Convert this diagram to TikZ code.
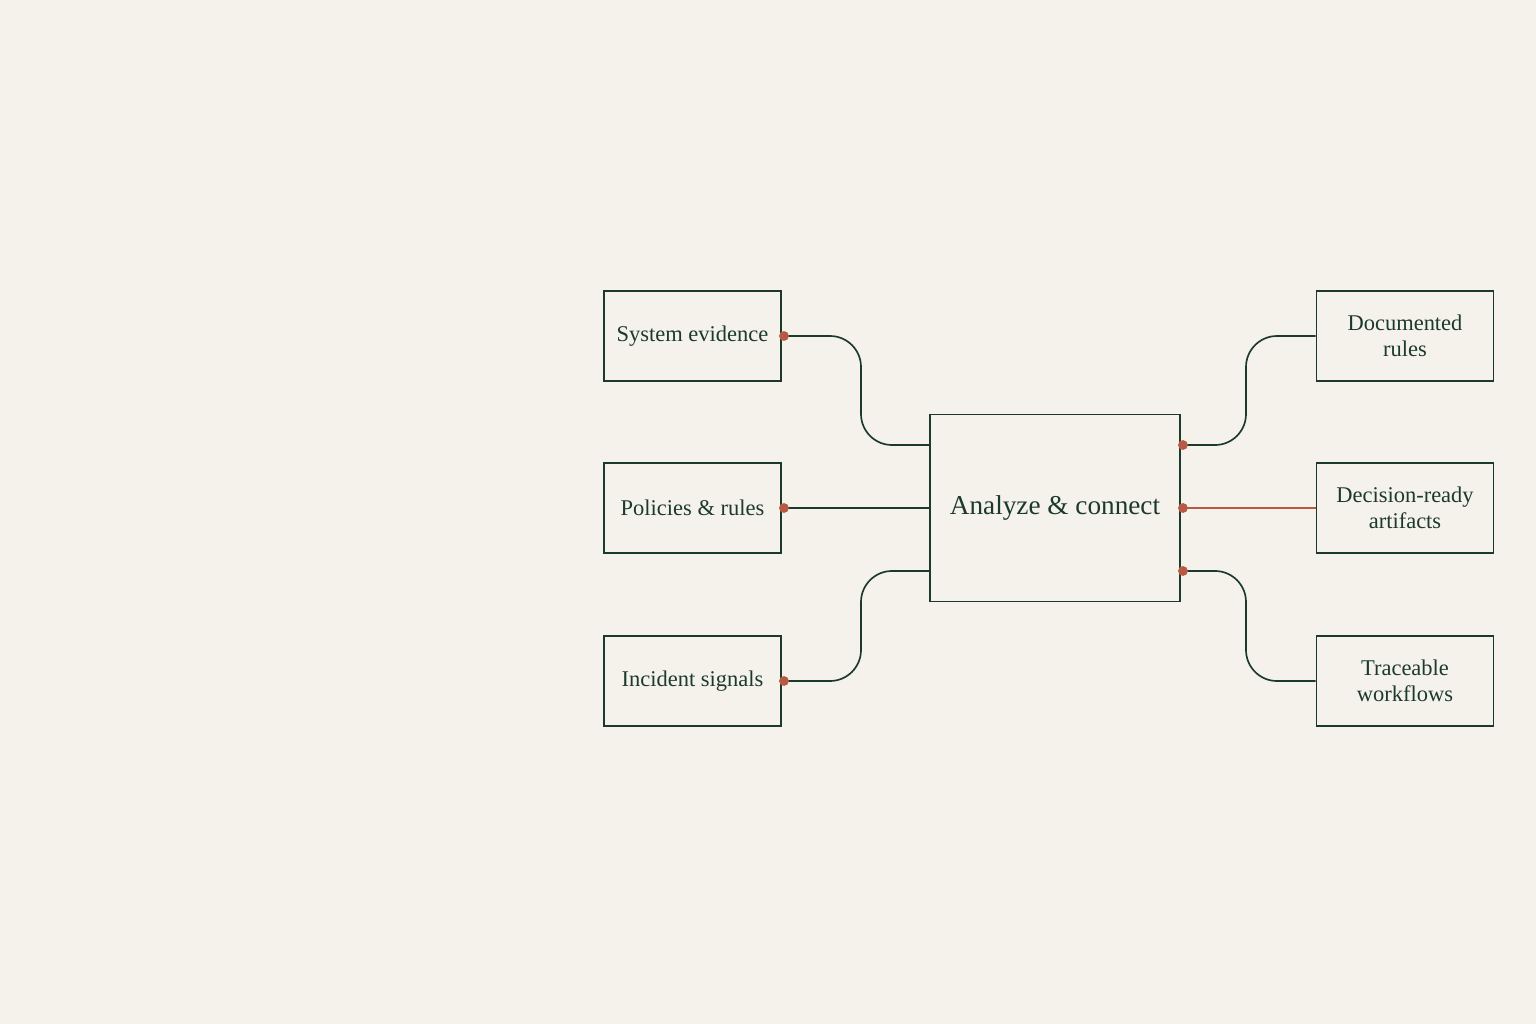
\documentclass[tikz,border=0pt]{standalone}
\usepackage{fontspec}
\setmainfont{Liberation Serif}
\definecolor{ink}{HTML}{1C3A2C}
\definecolor{rust}{HTML}{B65A45}
\definecolor{paper}{HTML}{F5F2EB}
\tikzset{
  box/.style={draw=ink, line width=1.1pt, minimum width=3.54cm, minimum height=1.8cm, align=center, text=ink, font=\fontsize{12.8}{14.6}\selectfont},
  hub/.style={draw=ink, line width=1.1pt, minimum width=5cm, minimum height=3.74cm, text=ink, font=\fontsize{15.5}{18}\selectfont},
  link/.style={draw=ink, line width=0.95pt, rounded corners=0.62cm},
  pin/.style={fill=rust, draw=none}
}
\begin{document}
\begin{tikzpicture}[x=0.02cm, y=-0.02cm]
    % page
    \fill[paper] (0,0) rectangle (1536,1024);
    \useasboundingbox (0,0) rectangle (1536,1024);
    % hub
    \node[hub] (hub) at (1055,508) {Analyze \& connect};
    % inputs
    \node[box] (evidence) at (692.5,336) {System evidence};
    \node[box] (policies) at (692.5,508) {Policies \& rules};
    \node[box] (signals) at (692.5,681) {Incident signals};
    % outputs
    \node[box] (documented) at (1405,336) {Documented\\rules};
    \node[box] (artifacts) at (1405,508) {Decision-ready\\artifacts};
    \node[box] (workflows) at (1405,681) {Traceable\\workflows};
    % ports on the hub
    \coordinate (hub in top) at ([yshift=1.26cm]hub.west);
    \coordinate (hub in low) at ([yshift=-1.26cm]hub.west);
    \coordinate (hub out top) at ([yshift=1.26cm]hub.east);
    \coordinate (hub out low) at ([yshift=-1.26cm]hub.east);
    % links in
    \draw[link] (evidence.east) -- (861,336) -- (861,445) -- (hub in top);
    \draw[link] (policies.east) -- (hub.west);
    \draw[link] (signals.east) -- (861,681) -- (861,571) -- (hub in low);
    % links out
    \draw[link] (hub out top) -- (1246,445) -- (1246,336) -- (documented.west);
    \draw[link, draw=rust] (hub.east) -- (artifacts.west);
    \draw[link] (hub out low) -- (1246,571) -- (1246,681) -- (workflows.west);
    % dots
    \foreach \p in {evidence.east, policies.east, signals.east, hub out top, hub.east, hub out low} {
      \fill[pin] ([xshift=0.04cm]\p) circle (2.8pt);
    }
\end{tikzpicture}
\end{document}
